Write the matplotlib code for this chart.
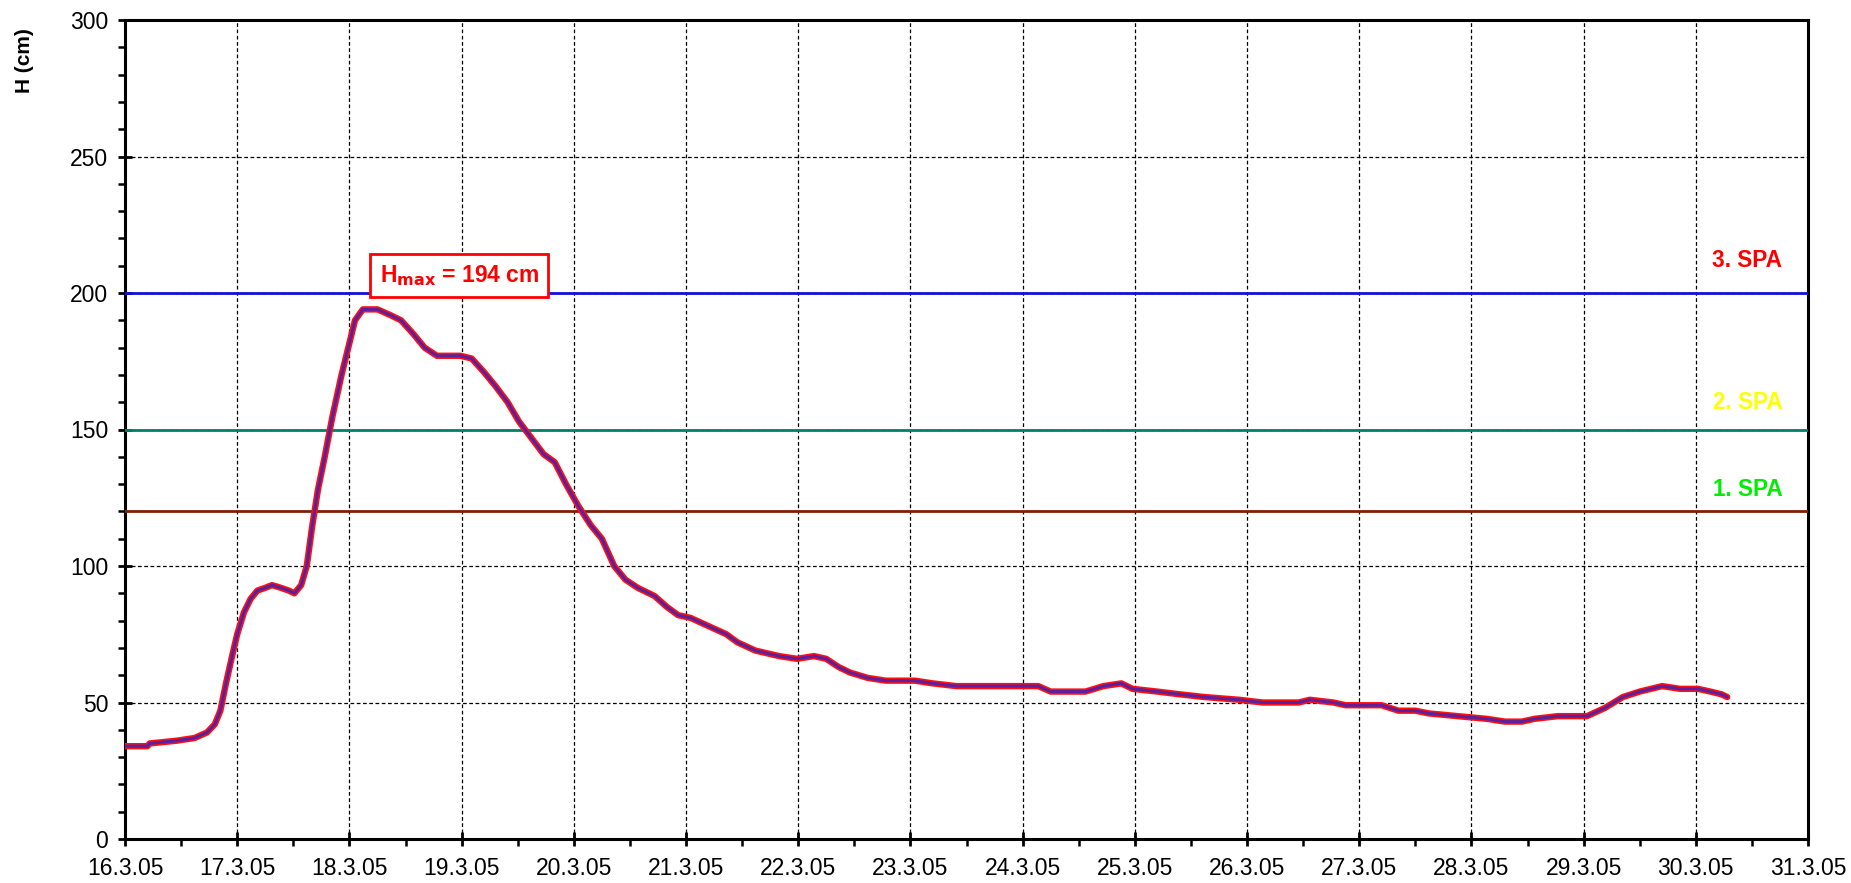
import matplotlib
matplotlib.use("Agg")
import matplotlib.pyplot as plt
from matplotlib.ticker import MultipleLocator, FixedLocator
import numpy as np

plt.rcParams['font.family'] = ['Liberation Sans', 'DejaVu Sans']

# time in days counted from 16.3.05 00:00, water level H in cm
t_days = [0.00, 0.20, 0.22, 0.46, 0.62, 0.73, 0.80, 0.85, 0.90, 0.96, 1.00,
          1.06, 1.12, 1.18, 1.25, 1.31, 1.39, 1.46, 1.51, 1.57, 1.62, 1.67,
          1.72, 1.78, 1.85, 1.93, 1.99, 2.05, 2.12, 2.25, 2.36, 2.46, 2.57,
          2.67, 2.78, 2.99, 3.09, 3.20, 3.30, 3.41, 3.51, 3.62, 3.73, 3.83,
          3.93, 4.04, 4.15, 4.25, 4.36, 4.46, 4.57, 4.72, 4.83, 4.93, 5.04,
          5.20, 5.36, 5.46, 5.62, 5.83, 5.99, 6.14, 6.25, 6.36, 6.46, 6.62,
          6.78, 7.04, 7.20, 7.41, 8.14, 8.25, 8.56, 8.72, 8.88, 8.98, 9.20,
          9.40, 9.62, 9.93, 10.14, 10.46, 10.56, 10.77, 10.88, 11.20, 11.35,
          11.50, 11.62, 12.14, 12.30, 12.45, 12.56, 12.77, 13.03, 13.19,
          13.35, 13.50, 13.60, 13.70, 13.86, 14.02, 14.13, 14.23, 14.28]
h_cm = [34, 34, 35, 36, 37, 39, 42, 47, 57, 68, 75,
        83, 88, 91, 92, 93, 92, 91, 90, 93, 100, 115,
        128, 140, 155, 170, 180, 190, 194, 194, 192, 190, 185,
        180, 177, 177, 176, 171, 166, 160, 153, 147, 141, 138,
        130, 122, 115, 110, 100, 95, 92, 89, 85, 82, 81,
        78, 75, 72, 69, 67, 66, 67, 66, 63, 61, 59,
        58, 58, 57, 56, 56, 54, 54, 56, 57, 55, 54,
        53, 52, 51, 50, 50, 51, 50, 49, 49, 47,
        47, 46, 44, 43, 43, 44, 45, 45, 48,
        52, 54, 55, 56, 55, 55, 54, 53, 52]

x_tick_labels = ['16.3.05', '17.3.05', '18.3.05', '19.3.05', '20.3.05',
                 '21.3.05', '22.3.05', '23.3.05', '24.3.05', '25.3.05',
                 '26.3.05', '27.3.05', '28.3.05', '29.3.05', '30.3.05',
                 '31.3.05']

spa_levels = [120, 150, 200]
spa_labels = ['1. SPA', '2. SPA', '3. SPA']
spa_line_colors = ['#7F1F00', '#00806A', '#1010E0']
spa_text_colors = ['#00EE00', '#FFFF00', '#FF0000']

h_max = 194

fig = plt.figure(figsize=(18.51, 8.83), dpi=100)
ax = fig.add_axes([125/1851, 1 - 839/883, (1808-125)/1851, (839-20)/883])

ax.set_xlim(0, 15)
ax.set_ylim(0, 300)

ax.xaxis.set_major_locator(FixedLocator(range(len(x_tick_labels))))
ax.set_xticklabels(x_tick_labels)
ax.xaxis.set_minor_locator(MultipleLocator(0.5))
ax.yaxis.set_major_locator(MultipleLocator(50))
ax.yaxis.set_minor_locator(MultipleLocator(10))

ax.grid(True, which='major', color='black', linestyle=(0, (3, 2)), linewidth=0.9)
ax.set_axisbelow(True)

# SPA lines
for lvl, col in zip(spa_levels, spa_line_colors):
    ax.axhline(lvl, color=col, linewidth=2, zorder=3)

# data line: red outer, purple inner
ax.plot(t_days, h_cm, color='#FF1010', linewidth=4.6, zorder=4,
        solid_capstyle='round', solid_joinstyle='round')
ax.plot(t_days, h_cm, color='#5A20A0', linewidth=2.2, zorder=5,
        solid_capstyle='round', solid_joinstyle='round')

# SPA labels
spa_text_y = [128, 160, 212]
for lbl, c, yv in zip(spa_labels, spa_text_colors, spa_text_y):
    ax.text(14.46, yv, lbl, color=c, fontsize=16.3, fontweight='bold',
            ha='center', va='center', zorder=6)

# Hmax annotation
ax.text(2.98, 206.5, r'H$_{\mathbf{max}}$ = %d cm' % h_max, color='#FF0000',
        fontsize=16.5, fontweight='bold', ha='center', va='center', zorder=7,
        bbox=dict(boxstyle='square,pad=0.4', facecolor='white',
                  edgecolor='#FF0000', linewidth=2))

for s in ax.spines.values():
    s.set_linewidth(2.2)
    s.set_color('black')

ax.tick_params(axis='both', which='major', direction='inout', length=10, width=2,
               labelsize=16.5)
ax.tick_params(axis='both', which='minor', direction='out', length=5, width=1.8)
ax.tick_params(axis='y', which='major', pad=7)
ax.tick_params(axis='x', which='major', pad=8)

ax.set_ylabel('H (cm)', fontsize=15, fontweight='bold')
ax.yaxis.set_label_coords(-0.054, 0.95)

fig.savefig('out.png', dpi=100, facecolor='white')
